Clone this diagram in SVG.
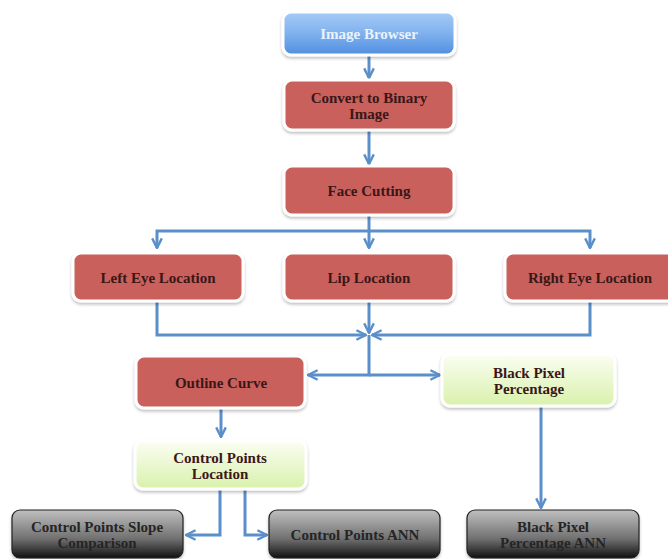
<svg xmlns="http://www.w3.org/2000/svg" width="668" height="559" viewBox="0 0 668 559">
<defs>
<linearGradient id="gBlue" x1="0" y1="0" x2="0" y2="1"><stop offset="0" stop-color="#a6cbf6"/><stop offset="0.5" stop-color="#80b1ee"/><stop offset="1" stop-color="#4f8ee0"/></linearGradient>
<linearGradient id="gGreen" x1="0" y1="0" x2="0" y2="1"><stop offset="0" stop-color="#fbfef3"/><stop offset="1" stop-color="#d9f1ab"/></linearGradient>
<linearGradient id="gBlack" x1="0" y1="0" x2="0" y2="1"><stop offset="0" stop-color="#c0c0c0"/><stop offset="0.6" stop-color="#707070"/><stop offset="1" stop-color="#111"/></linearGradient>
<filter id="sh" x="-10%" y="-20%" width="120%" height="150%"><feDropShadow dx="0" dy="2" stdDeviation="1.5" flood-color="#000" flood-opacity="0.25"/></filter>
<marker id="ah" viewBox="0 0 10 10" refX="9" refY="5" markerWidth="4" markerHeight="4" orient="auto" markerUnits="strokeWidth"><path d="M1,1 L9,5 L1,9" fill="none" stroke="#5b8fc9" stroke-width="2"/></marker>
</defs>
<style>
.box{stroke:#fff;stroke-width:3;filter:url(#sh)}
.red{fill:#c9605c}
.blue{fill:url(#gBlue)}
.green{fill:url(#gGreen)}
.black{fill:url(#gBlack);stroke:#222;stroke-width:1.2}
text{font-family:"Liberation Serif","DejaVu Serif",serif;font-weight:bold;font-size:15px;text-anchor:middle;fill:#3a1717}
.w{fill:#eaf2fd}
.k{fill:#252525}
.c{fill:none;stroke:#5b8fc9;stroke-width:3}
</style>
<rect width="668" height="559" fill="#fff"/>
<g id="connectors">
<path class="c" d="M369,55 V78" marker-end="url(#ah)"/>
<path class="c" d="M369,130 V164" marker-end="url(#ah)"/>
<path class="c" d="M369,215 V248" marker-end="url(#ah)"/>
<path class="c" d="M369,231 H157 V248" marker-end="url(#ah)"/>
<path class="c" d="M369,231 H590 V248" marker-end="url(#ah)"/>
<path class="c" d="M157,301 V335 H366" marker-end="url(#ah)"/>
<path class="c" d="M590,301 V335 H372" marker-end="url(#ah)"/>
<path class="c" d="M369,301 V333" marker-end="url(#ah)"/>
<path class="c" d="M369,335 V375 H308" marker-end="url(#ah)"/>
<path class="c" d="M369,375 H440" marker-end="url(#ah)"/>
<path class="c" d="M221,408 V437" marker-end="url(#ah)"/>
<path class="c" d="M220,489 V535 H186" marker-end="url(#ah)"/>
<path class="c" d="M245,489 V535 H267" marker-end="url(#ah)"/>
<path class="c" d="M541,406 V508" marker-end="url(#ah)"/>
</g>
<g id="image-browser"><rect class="box blue" x="283" y="12" width="172" height="43" rx="8"/><text class="w" x="369" y="39">Image Browser</text></g>
<g id="convert-binary"><rect class="box red" x="284" y="80" width="170" height="50" rx="8"/><text x="369" y="103">Convert to Binary</text><text x="369" y="119">Image</text></g>
<g id="face-cutting"><rect class="box red" x="284" y="166" width="170" height="49" rx="8"/><text x="369" y="196">Face Cutting</text></g>
<g id="left-eye"><rect class="box red" x="73" y="253" width="170" height="48" rx="8"/><text x="158" y="283">Left Eye Location</text></g>
<g id="lip"><rect class="box red" x="284" y="253" width="170" height="48" rx="8"/><text x="369" y="283">Lip Location</text></g>
<g id="right-eye"><rect class="box red" x="505" y="253" width="172" height="48" rx="8"/><text x="590" y="283">Right Eye Location</text></g>
<g id="outline-curve"><rect class="box red" x="136" y="356" width="169" height="52" rx="8"/><text x="221" y="388">Outline Curve</text></g>
<g id="black-pixel"><rect class="box green" x="442" y="354" width="173" height="52" rx="8"/><text x="529" y="378">Black Pixel</text><text x="529" y="394">Percentage</text></g>
<g id="control-points-location"><rect class="box green" x="135" y="441" width="171" height="48" rx="8"/><text x="220" y="463">Control Points</text><text x="220" y="479">Location</text></g>
<g id="slope-comparison"><rect class="box black" x="12" y="510" width="171" height="48" rx="8"/><text class="k" x="97" y="532">Control Points Slope</text><text class="k" x="97" y="548">Comparison</text></g>
<g id="control-points-ann"><rect class="box black" x="269" y="510" width="171" height="48" rx="8"/><text class="k" x="355" y="540">Control Points ANN</text></g>
<g id="black-pixel-ann"><rect class="box black" x="467" y="510" width="172" height="48" rx="8"/><text class="k" x="553" y="532">Black Pixel</text><text class="k" x="553" y="548">Percentage ANN</text></g>
</svg>
